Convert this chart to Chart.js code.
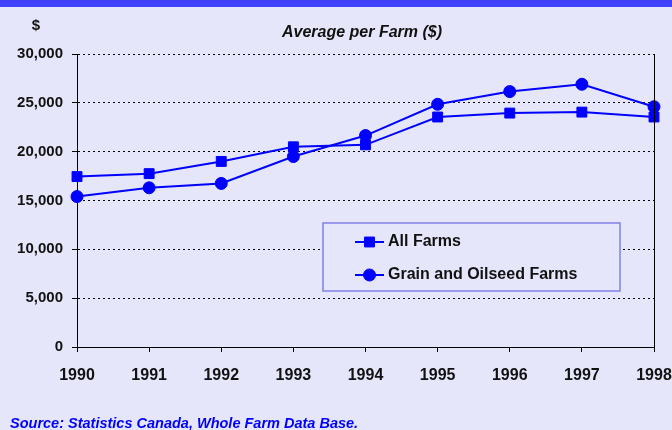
<!DOCTYPE html>
<html>
<head>
<meta charset="utf-8">
<script src="https://cdn.jsdelivr.net/npm/chart.js@4.4.1/dist/chart.umd.min.js"></script>
<style>
  html, body { margin: 0; padding: 0; background: #e6e6fa; }
  #wrap { width: 672px; height: 430px; position: relative; }
</style>
</head>
<body>
<div id="wrap"><canvas id="chart"></canvas></div>
<script>
// values
const years = ['1990', '1991', '1992', '1993', '1994', '1995', '1996', '1997', '1998'];
const allFarms = [17450, 17750, 19000, 20500, 20700, 23550, 23950, 24050, 23550];
const grainOilseed = [15400, 16300, 16750, 19500, 21650, 24850, 26150, 26900, 24600];
const seriesNames = ['All Farms', 'Grain and Oilseed Farms'];
const chartTitle = 'Average per Farm ($)';
const unitLabel = '$';
const sourceNote = 'Source: Statistics Canada, Whole Farm Data Base.';

const BLUE = '#0000ff';
const FONT = '"Liberation Sans", Arial, sans-serif';

// draws the header bar, titles, source line, right frame line and the boxed legend
const decor = {
    id: 'decor',
    beforeDraw(chart) {
        const ctx = chart.ctx;
        ctx.save();
        ctx.fillStyle = '#e6e6fa';
        ctx.fillRect(0, 0, chart.width, chart.height);
        ctx.fillStyle = '#4040ff';
        ctx.fillRect(0, 0, chart.width, 7);
        ctx.restore();
    },
    afterDraw(chart) {
        const ctx = chart.ctx;
        const area = chart.chartArea;
        ctx.save();

        // right frame line
        ctx.strokeStyle = '#000';
        ctx.lineWidth = 1;
        ctx.beginPath();
        ctx.moveTo(area.right + 0.5, area.top);
        ctx.lineTo(area.right + 0.5, area.bottom);
        ctx.stroke();

        ctx.fillStyle = '#111';
        ctx.textBaseline = 'alphabetic';
        ctx.font = 'bold 15px ' + FONT;
        ctx.textAlign = 'center';
        ctx.fillText(unitLabel, 36, 30);

        ctx.font = 'italic bold 16px ' + FONT;
        ctx.fillText(chartTitle, 362, 37);

        ctx.fillStyle = BLUE;
        ctx.textAlign = 'left';
        ctx.font = 'italic bold 14.5px ' + FONT;
        ctx.fillText(sourceNote, 10, 428);

        // legend box
        const bx = 323, by = 223, bw = 297, bh = 68;
        ctx.fillStyle = '#e6e6fa';
        ctx.fillRect(bx, by, bw, bh);
        ctx.strokeStyle = '#8080e6';
        ctx.lineWidth = 1.5;
        ctx.strokeRect(bx, by, bw, bh);

        const rows = [242, 275];
        chart.data.datasets.forEach((ds, i) => {
            const y = rows[i];
            ctx.strokeStyle = ds.borderColor;
            ctx.lineWidth = 2;
            ctx.beginPath();
            ctx.moveTo(355, y);
            ctx.lineTo(384, y);
            ctx.stroke();
            ctx.fillStyle = ds.pointBackgroundColor;
            ctx.strokeStyle = ds.pointBorderColor;
            ctx.lineWidth = 1;
            Chart.helpers.drawPoint(ctx, {
                pointStyle: ds.pointStyle,
                radius: ds.pointRadius,
                rotation: 0,
                borderWidth: 1
            }, 369.5, y);
            ctx.fillStyle = '#111';
            ctx.font = 'bold 16px ' + FONT;
            ctx.textBaseline = 'middle';
            ctx.fillText(ds.label, 388, y);
        });
        ctx.restore();
    }
};

const ctx = document.getElementById('chart').getContext('2d');
new Chart(ctx, {
    type: 'line',
    data: {
        labels: years,
        datasets: [
            {
                label: seriesNames[0],
                data: allFarms,
                borderColor: BLUE,
                borderWidth: 2,
                pointStyle: 'rect',
                pointRadius: 7,
                pointBackgroundColor: BLUE,
                pointBorderColor: BLUE,
                pointBorderWidth: 1,
                tension: 0,
                clip: false
            },
            {
                label: seriesNames[1],
                data: grainOilseed,
                borderColor: BLUE,
                borderWidth: 2,
                pointStyle: 'circle',
                pointRadius: 6,
                pointBackgroundColor: BLUE,
                pointBorderColor: BLUE,
                pointBorderWidth: 1,
                tension: 0,
                clip: false
            }
        ]
    },
    options: {
        responsive: true,
        maintainAspectRatio: false,
        animation: false,
        events: [],
        layout: { padding: { top: 54, left: 0, right: 18, bottom: 0 } },
        plugins: {
            legend: { display: false },
            title: { display: false },
            tooltip: { enabled: false }
        },
        scales: {
            x: {
                offset: false,
                grid: {
                    drawOnChartArea: false,
                    tickLength: 5,
                    tickColor: '#000'
                },
                border: { color: '#000', width: 1 },
                ticks: {
                    color: '#111',
                    font: { family: FONT, size: 16, weight: 'bold' },
                    padding: 14,
                    maxRotation: 0,
                    autoSkip: false
                },
                afterFit(scale) {
                    scale.height = 83;
                    scale.paddingLeft = 0;
                    scale.paddingRight = 0;
                }
            },
            y: {
                min: 0,
                max: 30000,
                ticks: {
                    stepSize: 5000,
                    color: '#111',
                    font: { family: FONT, size: 15, weight: 'bold' },
                    padding: 9,
                    callback: v => v.toLocaleString('en-US')
                },
                grid: {
                    color: '#000',
                    lineWidth: 1,
                    tickLength: 5,
                    tickColor: '#000',
                    tickBorderDash: []
                },
                border: { color: '#000', width: 1, dash: [2, 3] },
                afterFit(scale) {
                    scale.width = 77;
                    scale.paddingTop = 0;
                    scale.paddingBottom = 0;
                }
            }
        }
    },
    plugins: [decor]
});
</script>
</body>
</html>
